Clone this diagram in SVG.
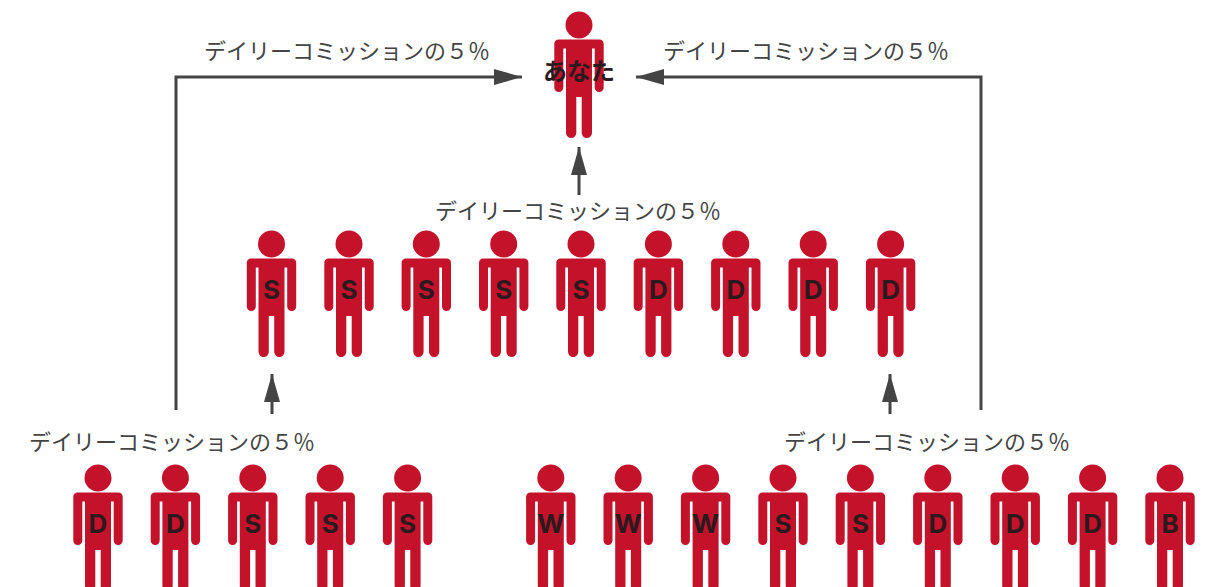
<svg xmlns="http://www.w3.org/2000/svg" width="1214" height="587" viewBox="0 0 1214 587">
<style>
.lb{font-family:"Noto Sans CJK JP","Noto Sans",sans-serif;font-size:22px;fill:#444;}
.n{font-family:"Inter","Noto Sans CJK JP",sans-serif;font-size:26px;font-weight:700;fill:#2a1a1e;text-anchor:middle;}
.y{font-family:"Noto Sans CJK JP",sans-serif;font-size:24px;}
.c{fill:none;stroke:#444;stroke-width:3;}
.p{fill:#c4122b;}
</style>
<defs>
<marker id="a" markerUnits="userSpaceOnUse" markerWidth="30" markerHeight="18" refX="28" refY="8" orient="auto"><path d="M0,0L28,8L0,16Z" fill="#444"/></marker>
<symbol id="person" overflow="visible" width="1" height="1">
<circle class="p" cx="0" cy="25" r="13.5"/>
<path class="p" d="M-20.5,39.5H20.5A4.2,4.2 0 0 1 24.7,43.7V87.5A4.5,4.5 0 0 1 15.7,87.5V48.5H13V132.8A5.15,5.15 0 0 1 2.7,132.8V97H-2.7V132.8A5.15,5.15 0 0 1 -13,132.8V48.5H-15.7V87.5A4.5,4.5 0 0 1 -24.7,87.5V43.7A4.2,4.2 0 0 1 -20.5,39.5Z"/>
</symbol>
</defs>
<rect width="1214" height="587" fill="#fff"/>
<g id="connectors">
<path class="c" d="M176,410V77H522" marker-end="url(#a)"/>
<path class="c" d="M981,410V77H636" marker-end="url(#a)"/>
<path class="c" d="M579,195V147" marker-end="url(#a)"/>
<path class="c" d="M272,414V374" marker-end="url(#a)"/>
<path class="c" d="M890,414V374" marker-end="url(#a)"/>
</g>
<g id="you"><use href="#person" x="579" y="0"/><text class="n y" x="579" y="80">あなた</text></g>
<g id="labels">
<text class="lb" x="204" y="59">デイリーコミッションの&#xFF15;&#xFF05;</text>
<text class="lb" x="663" y="59">デイリーコミッションの&#xFF15;&#xFF05;</text>
<text class="lb" x="435" y="218.5">デイリーコミッションの&#xFF15;&#xFF05;</text>
<text class="lb" x="29" y="449.5">デイリーコミッションの&#xFF15;&#xFF05;</text>
<text class="lb" x="784" y="449.5">デイリーコミッションの&#xFF15;&#xFF05;</text>
</g>
<g id="r2-1"><use href="#person" x="271.5" y="219"/><text class="n" x="271.5" y="299">S</text></g>
<g id="r2-2"><use href="#person" x="349" y="219"/><text class="n" x="349" y="299">S</text></g>
<g id="r2-3"><use href="#person" x="426.3" y="219"/><text class="n" x="426.3" y="299">S</text></g>
<g id="r2-4"><use href="#person" x="503.7" y="219"/><text class="n" x="503.7" y="299">S</text></g>
<g id="r2-5"><use href="#person" x="581" y="219"/><text class="n" x="581" y="299">S</text></g>
<g id="r2-6"><use href="#person" x="658.4" y="219"/><text class="n" x="658.4" y="299">D</text></g>
<g id="r2-7"><use href="#person" x="735.8" y="219"/><text class="n" x="735.8" y="299">D</text></g>
<g id="r2-8"><use href="#person" x="813.2" y="219"/><text class="n" x="813.2" y="299">D</text></g>
<g id="r2-9"><use href="#person" x="890.6" y="219"/><text class="n" x="890.6" y="299">D</text></g>
<g id="r3-1"><use href="#person" x="98" y="453"/><text class="n" x="98" y="533">D</text></g>
<g id="r3-2"><use href="#person" x="175.4" y="453"/><text class="n" x="175.4" y="533">D</text></g>
<g id="r3-3"><use href="#person" x="252.8" y="453"/><text class="n" x="252.8" y="533">S</text></g>
<g id="r3-4"><use href="#person" x="330.2" y="453"/><text class="n" x="330.2" y="533">S</text></g>
<g id="r3-5"><use href="#person" x="407.6" y="453"/><text class="n" x="407.6" y="533">S</text></g>
<g id="r3-6"><use href="#person" x="550.8" y="453"/><text class="n" x="550.8" y="533">W</text></g>
<g id="r3-7"><use href="#person" x="628.2" y="453"/><text class="n" x="628.2" y="533">W</text></g>
<g id="r3-8"><use href="#person" x="705.6" y="453"/><text class="n" x="705.6" y="533">W</text></g>
<g id="r3-9"><use href="#person" x="783" y="453"/><text class="n" x="783" y="533">S</text></g>
<g id="r3-10"><use href="#person" x="860.4" y="453"/><text class="n" x="860.4" y="533">S</text></g>
<g id="r3-11"><use href="#person" x="937.8" y="453"/><text class="n" x="937.8" y="533">D</text></g>
<g id="r3-12"><use href="#person" x="1015.2" y="453"/><text class="n" x="1015.2" y="533">D</text></g>
<g id="r3-13"><use href="#person" x="1092.6" y="453"/><text class="n" x="1092.6" y="533">D</text></g>
<g id="r3-14"><use href="#person" x="1170" y="453"/><text class="n" x="1170" y="533">B</text></g>
</svg>
